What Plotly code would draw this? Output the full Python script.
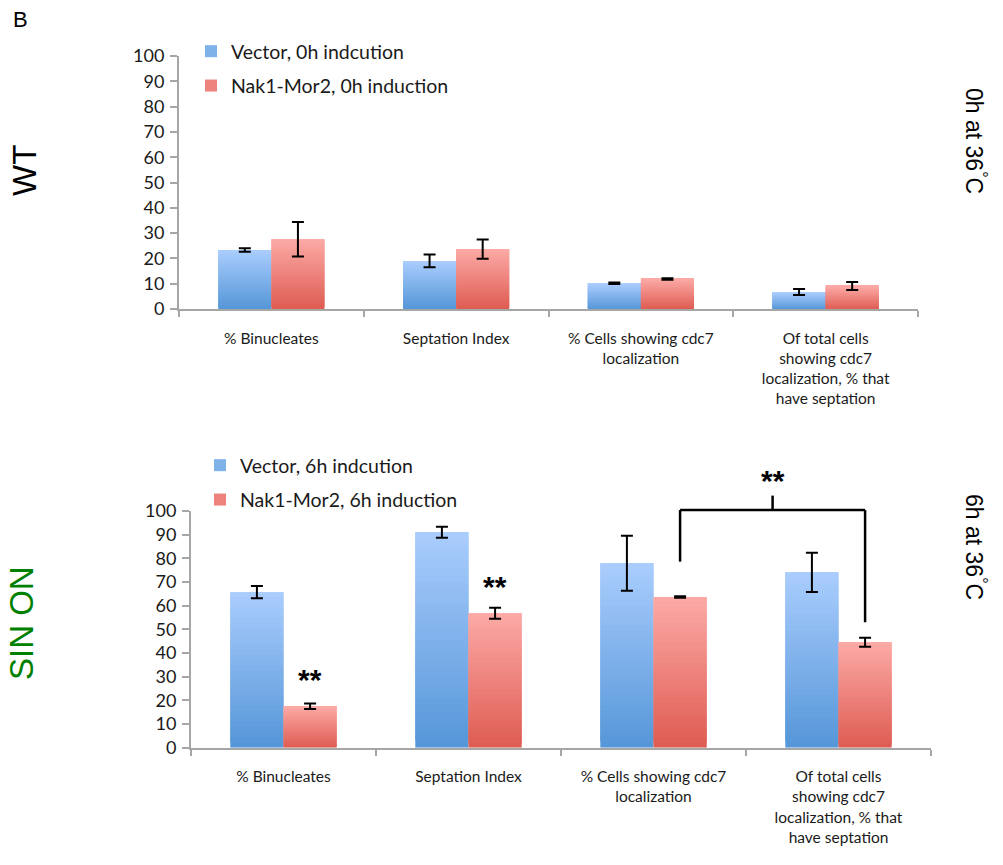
import plotly.graph_objects as go

# ---------------- data ----------------
categories = [
    "% Binucleates",
    "Septation Index",
    "% Cells showing cdc7<br>localization",
    "Of total cells<br>showing cdc7<br>localization, % that<br>have septation",
]

wt_vector = [23.3, 19.0, 10.2, 6.7]
wt_vector_err = [0.7, 2.5, 0.3, 1.2]
wt_nak = [27.6, 23.7, 11.9, 9.1]
wt_nak_err = [6.8, 3.8, 0.3, 1.6]

sin_vector = [65.7, 91.0, 77.9, 74.1]
sin_vector_err = [2.6, 2.3, 11.6, 8.3]
sin_nak = [17.5, 56.8, 63.7, 44.5]
sin_nak_err = [1.2, 2.3, 0.3, 1.9]

y_tick_values = [0, 10, 20, 30, 40, 50, 60, 70, 80, 90, 100]

legend_top = ["Vector, 0h indcution", "Nak1-Mor2, 0h induction"]
legend_bottom = ["Vector, 6h indcution", "Nak1-Mor2, 6h induction"]

# significance marks (category index, y value) above the Nak1-Mor2 bars
sig_marks = [(0, 29), (1, 68)]
# bracket between the Nak1-Mor2 bars of category 2 and 3
bracket_cats = (2, 3)
bracket_top = 100.4
bracket_left_bottom = 78.6
bracket_right_bottom = 53
bracket_tick_top = 106.5
bracket_label_y = 113

# ---------------- style ----------------
FONT = "Lato"
BLUE_BOTTOM = (85, 150, 216)
BLUE_TOP = (170, 205, 253)
RED_BOTTOM = (222, 92, 82)
RED_TOP = (252, 170, 166)
N_SEG = 30
BARGAP = 0.425
AXIS_COLOR = "#a6a6a6"
TEXT_COLOR = "#1a1a1a"


def mix(c0, c1, t):
    return "rgb(%d,%d,%d)" % tuple(round(a + (b - a) * t) for a, b in zip(c0, c1))


fig = go.Figure()


def add_series(values, errors, name, c_bottom, c_top, group, xa, ya, legend):
    # gradient: stack overlapping thin slices, each a fraction of the bar's own height
    for k in range(N_SEG):
        t = (k + 0.5) / N_SEG
        frac = min(2.0, N_SEG - k) / N_SEG
        fig.add_trace(go.Bar(
            x=categories,
            y=[v * frac for v in values],
            base=[v * k / N_SEG for v in values],
            marker=dict(color=mix(c_bottom, c_top, t), line=dict(width=0)),
            offsetgroup=group, legendgroup=group, showlegend=False,
            hoverinfo="skip", xaxis=xa, yaxis=ya, legend=legend,
        ))
    # transparent full bar carrying error bars
    fig.add_trace(go.Bar(
        x=categories, y=values, name=name,
        marker=dict(color="rgba(0,0,0,0)", line=dict(width=0)),
        error_y=dict(type="data", array=errors, visible=True,
                     color="black", thickness=2, width=6),
        offsetgroup=group, legendgroup=group, showlegend=False,
        xaxis=xa, yaxis=ya, legend=legend,
    ))
    # legend entry
    fig.add_trace(go.Bar(
        x=[categories[0]], y=[None], name=name,
        marker=dict(color=mix(c_bottom, c_top, 0.5), line=dict(width=0)),
        offsetgroup=group, legendgroup=group, showlegend=True,
        xaxis=xa, yaxis=ya, legend=legend,
    ))


add_series(wt_vector, wt_vector_err, legend_top[0], BLUE_BOTTOM, BLUE_TOP, "v0", "x", "y", "legend")
add_series(wt_nak, wt_nak_err, legend_top[1], RED_BOTTOM, RED_TOP, "n0", "x", "y", "legend")
add_series(sin_vector, sin_vector_err, legend_bottom[0], BLUE_BOTTOM, BLUE_TOP, "v6", "x2", "y2", "legend2")
add_series(sin_nak, sin_nak_err, legend_bottom[1], RED_BOTTOM, RED_TOP, "n6", "x2", "y2", "legend2")

W, H = 1003, 865

xaxis_common = dict(
    type="category", showgrid=False, zeroline=False, automargin=False,
    showline=True, linecolor=AXIS_COLOR, linewidth=2,
    ticks="outside", tickson="boundaries", ticklen=6, tickwidth=2, tickcolor=AXIS_COLOR,
    tickfont=dict(family=FONT, size=15.5, color=TEXT_COLOR),
    ticklabelstandoff=14, fixedrange=True,
)
yaxis_common = dict(
    range=[0, 100], tickvals=y_tick_values, showgrid=False, zeroline=False, automargin=False,
    showline=True, linecolor=AXIS_COLOR, linewidth=2,
    ticks="outside", ticklen=7, tickwidth=2, tickcolor=AXIS_COLOR,
    tickfont=dict(family=FONT, size=18, color=TEXT_COLOR),
    ticklabelstandoff=2, fixedrange=True,
)

legend_common = dict(
    font=dict(family=FONT, size=19.5, color=TEXT_COLOR),
    bgcolor="rgba(0,0,0,0)", xanchor="left", yanchor="top",
    tracegroupgap=6, orientation="v",
)

fig.update_layout(
    template="plotly_white",
    width=W, height=H,
    margin=dict(l=0, r=0, t=0, b=0, autoexpand=False),
    paper_bgcolor="white", plot_bgcolor="white",
    barmode="group", bargap=BARGAP, bargroupgap=0,
    xaxis=dict(domain=[179 / W, 918 / W], anchor="y", **xaxis_common),
    yaxis=dict(domain=[(H - 309) / H, (H - 56) / H], anchor="x", **yaxis_common),
    xaxis2=dict(domain=[191 / W, 931 / W], anchor="y2", **xaxis_common),
    yaxis2=dict(domain=[(H - 747.7) / H, (H - 511) / H], anchor="x2", **yaxis_common),
    legend=dict(x=191 / W, y=(H - 32) / H, **legend_common),
    legend2=dict(x=200 / W, y=(H - 446) / H, **legend_common),
    showlegend=True,
)

half_bar = (1 - BARGAP) / 4  # offset of a bar centre from category centre

annotations = []
for ci, yv in sig_marks:
    annotations.append(dict(
        x=ci + half_bar, y=yv, xref="x2", yref="y2", text="<b>**</b>",
        xanchor="center", yanchor="middle",
        showarrow=False, font=dict(family="Liberation Sans", size=30, color="black"),
    ))

xl = bracket_cats[0] + half_bar
xr = bracket_cats[1] + half_bar
xm = (xl + xr) / 2
shape_style = dict(xref="x2", yref="y2 domain", line=dict(color="black", width=2.5))
shapes = [
    dict(type="line", x0=xl, x1=xl, y0=bracket_left_bottom / 100, y1=bracket_top / 100, **shape_style),
    dict(type="line", x0=xl, x1=xr, y0=bracket_top / 100, y1=bracket_top / 100, **shape_style),
    dict(type="line", x0=xr, x1=xr, y0=bracket_top / 100, y1=bracket_right_bottom / 100, **shape_style),
    dict(type="line", x0=xm, x1=xm, y0=bracket_top / 100, y1=bracket_tick_top / 100, **shape_style),
]
annotations.append(dict(
    x=xm, y=bracket_label_y / 100, xref="x2", yref="y2 domain", text="<b>**</b>",
    xanchor="center", yanchor="middle",
    showarrow=False, font=dict(family="Liberation Sans", size=30, color="black"),
))

# panel labels
center = dict(xref="paper", yref="paper", showarrow=False, xanchor="center", yanchor="middle")
annotations += [
    dict(x=20 / W, y=(H - 20) / H, text="B",
         font=dict(family="Liberation Sans", size=22, color="black"), **center),
    dict(x=25 / W, y=(H - 171) / H, text="WT", textangle=-90,
         font=dict(family="Liberation Sans", size=33, color="black"), **center),
    dict(x=21 / W, y=(H - 623) / H, text="SIN ON", textangle=-90,
         font=dict(family="Liberation Sans", size=33, color="green"), **center),
    dict(x=976 / W, y=(H - 141) / H, text="0h at 36<sup>°</sup>C", textangle=90,
         font=dict(family="Liberation Sans", size=23, color="black"), **center),
    dict(x=976 / W, y=(H - 547) / H, text="6h at 36<sup>°</sup>C", textangle=90,
         font=dict(family="Liberation Sans", size=23, color="black"), **center),
]

fig.update_layout(annotations=annotations, shapes=shapes)

fig.write_html(
    "out.html",
    config={"displayModeBar": False},
    post_script="document.body.style.margin='0';document.body.style.overflow='hidden';",
)
